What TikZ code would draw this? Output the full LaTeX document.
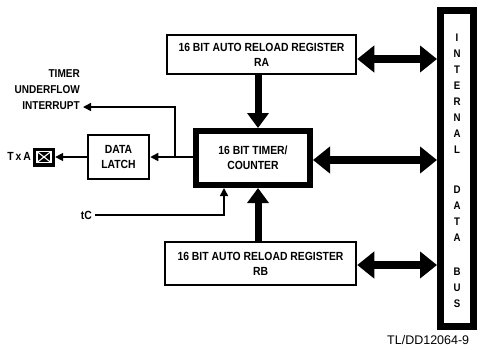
\documentclass[tikz,border=0pt]{standalone}
\usepackage{fontspec}
\setmainfont{Liberation Sans}[BoldFeatures={FakeStretch=0.88}]
\usetikzlibrary{arrows.meta}
\begin{document}
\begin{tikzpicture}[x=1pt,y=-1pt,
  lbl/.style={font=\bfseries\fontsize{11.8}{12}\selectfont, align=center, inner sep=0pt},
  regbox/.style={draw, line width=2.5pt, lbl},
  thick double/.style={line width=8pt, {Triangle[length=17pt,width=26pt]}-{Triangle[length=17pt,width=26pt]}},
  vert arrow/.style={line width=7pt, -{Triangle[length=15pt,width=21pt]}},
  thin arrow/.style={line width=1.5pt, -{Triangle[length=8pt,width=8pt]}},
  busletter/.style={font=\bfseries\fontsize{11}{11}\selectfont, inner sep=0pt}
]
\useasboundingbox (0,0) rectangle (486,349);

% boxes
\node[regbox, minimum width=189pt, minimum height=39pt] (ra) at (261.5,54.5)
  {16 BIT AUTO RELOAD REGISTER\\[3pt]RA};
\node[regbox, minimum width=191pt, minimum height=43pt] (rb) at (260.5,263.5)
  {16 BIT AUTO RELOAD REGISTER\\[3pt]RB};
\node[draw, line width=6pt, lbl, minimum width=114pt, minimum height=54pt] (timer) at (253,158)
  {16 BIT TIMER/\\[3pt]COUNTER};
\node[regbox, minimum width=61pt, minimum height=44pt] (latch) at (118.5,157)
  {DATA\\[3pt]LATCH};
\node[draw, line width=7pt, minimum width=33pt, minimum height=316pt] (bus) at (457,168.5) {};

% bus letters
\foreach \ch/\yy [count=\i] in {I/38,N/54,T/70,E/86,R/102,N/118,A/134,L/150,D/190,A/206,T/222,A/238,B/272,U/288,S/304}
  \node[busletter] (bl\i) at (457,\yy) {\ch};

% pin TxA
\node[fill=black, minimum width=22pt, minimum height=19pt, inner sep=0pt,
  path picture={
    \draw[white, line width=1.1pt]
      ([shift={(4,-4)}]path picture bounding box.south west) rectangle
      ([shift={(-4,4)}]path picture bounding box.north east);
    \draw[white, line width=1.1pt]
      ([shift={(4,-4)}]path picture bounding box.south west) --
      ([shift={(-4,4)}]path picture bounding box.north east);
    \draw[white, line width=1.1pt]
      ([shift={(4,4)}]path picture bounding box.north west) --
      ([shift={(-4,-4)}]path picture bounding box.south east);
  }] (txa) at (44,157) {};
\node[lbl, anchor=east] (txalbl) at (31,156) {T\,x\,A};

% labels
\node[lbl, anchor=east, align=right, font=\bfseries\fontsize{11.4}{16}\selectfont] (intr) at (80,90)
  {TIMER\\UNDERFLOW\\INTERRUPT};
\node[lbl, anchor=east] (tc) at (92,215) {tC};
\node[font=\fontsize{12.5}{14}\selectfont, anchor=north west, inner sep=0pt] (fig) at (387,335) {TL/DD12064-9};

% thick connectors
\draw[thick double] (ra.east |- 0,59) -- (bus.west |- 0,59);
\draw[thick double] (timer.east |- 0,160) -- (bus.west |- 0,160);
\draw[thick double] (rb.east |- 0,265) -- (bus.west |- 0,265);
\draw[vert arrow] (ra.south -| 258,0) -- (timer.north -| 258,0);
\draw[vert arrow] (rb.north -| 258,0) -- (timer.south -| 258,0);

% thin connectors
\coordinate (br) at (175,157);
\coordinate (intrtip) at (83,107);
\coordinate (tcstart) at (95,215);
\draw[thin arrow] (timer.west |- 0,157) -- (latch.east);
\draw[thin arrow] (br) -- (175,107) -- (intrtip);
\draw[thin arrow] (latch.west) -- (txa.east);
\draw[thin arrow] (tcstart) -- (224,215) -- (timer.south -| 224,0);
\end{tikzpicture}
\end{document}
